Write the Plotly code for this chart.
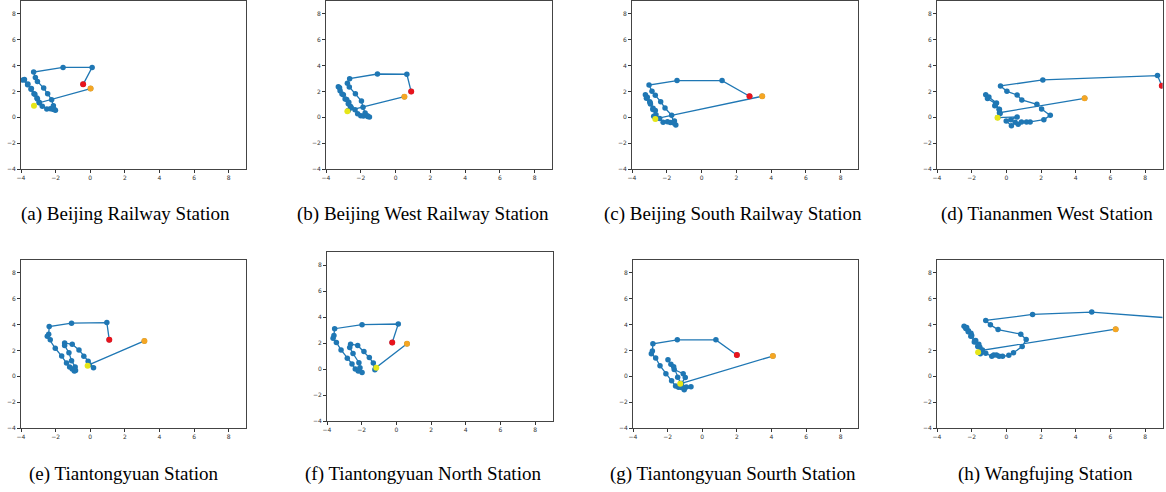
import plotly.graph_objects as go

W, H = 1166, 492

captions = [
    "(a) Beijing Railway Station",
    "(b) Beijing West Railway Station",
    "(c) Beijing South Railway Station",
    "(d) Tiananmen West Station",
    "(e) Tiantongyuan Station",
    "(f) Tiantongyuan North Station",
    "(g) Tiantongyuan Sourth Station",
    "(h) Wangfujing Station",
]

tick_vals = [-4, -2, 0, 2, 4, 6, 8]

# ---- trajectories: first point = orange start, last point = red end ----
a_x = [0.02, -2.95, -3.08, -3.25, -3.42, -3.62, -3.88, -3.8, -3.6, -3.4, -3.2, -3.05, -2.94, -2.77, -2.51, -2.3, -2.15, -2.01, -2.08, -2.13, -2.23, -2.46, -2.69, -3.05, -3.17, -3.27, -1.57, 0.11, -0.41]
a_y = [2.22, 1.12, 1.5, 1.82, 2.17, 2.52, 2.88, 2.92, 2.58, 2.22, 1.78, 1.42, 1.15, 0.85, 0.64, 0.66, 0.62, 0.54, 0.6, 0.9, 1.36, 1.82, 2.26, 2.78, 3.09, 3.5, 3.86, 3.86, 2.55]
a_yel = (-3.25, 0.9)

b_x = [0.51, -2.72, -2.6, -2.69, -2.81, -3.0, -3.19, -3.29, -3.22, -3.08, -2.9, -2.72, -2.55, -2.33, -2.18, -2.0, -1.85, -1.62, -1.5, -1.6, -1.75, -1.87, -1.96, -2.31, -2.66, -2.77, -2.64, -1.04, 0.65, 0.9]
b_y = [1.6, 0.52, 0.85, 1.16, 1.37, 1.75, 2.06, 2.37, 2.28, 1.8, 1.42, 1.05, 0.75, 0.59, 0.28, 0.13, 0.1, 0.13, 0.03, 0.06, 0.34, 0.77, 1.26, 1.83, 2.35, 2.63, 2.99, 3.35, 3.33, 1.99]
b_yel = (-2.77, 0.46)

c_x = [3.49, -2.6, -2.75, -2.66, -2.79, -2.94, -2.98, -3.17, -3.23, -3.12, -2.95, -2.8, -2.62, -2.41, -2.21, -1.96, -1.79, -1.56, -1.48, -1.6, -1.72, -2.1, -2.35, -2.66, -2.85, -3.02, -1.41, 1.18, 2.76]
c_y = [1.63, -0.1, 0.08, 0.52, 0.7, 1.03, 1.21, 1.47, 1.75, 1.55, 1.1, 0.6, 0.2, -0.1, -0.39, -0.34, -0.41, -0.28, -0.59, -0.45, 0.15, 0.72, 1.21, 1.7, 2.01, 2.5, 2.84, 2.84, 1.63]
c_yel = (-2.66, -0.13)

d_x = [4.51, -0.4, -0.42, -0.67, -0.57, -1.01, -1.19, -1.09, -0.62, -0.4, -0.36, -0.5, 0.62, 0.26, -0.01, 0.29, 0.51, 0.68, 0.87, 1.16, 1.37, 2.16, 2.53, 2.03, 1.76, 0.89, 0.62, 0.03, -0.34, 2.1, 8.71, 8.96]
d_y = [1.47, 0.36, 0.62, 0.9, 1.11, 1.57, 1.75, 1.45, 1.05, 0.6, 0.3, -0.02, 0.03, -0.18, -0.28, -0.65, -0.39, -0.54, -0.36, -0.36, -0.36, -0.18, 0.15, 0.65, 1.01, 1.34, 1.73, 2.01, 2.43, 2.89, 3.23, 2.45]
d_yel = (-0.51, -0.03)

e_x = [3.13, -0.05, 0.19, -0.12, -0.37, -0.65, -1.04, -1.48, -1.48, -1.23, -1.08, -0.87, -0.85, -0.92, -1.04, -1.19, -1.37, -1.65, -2.02, -2.31, -2.48, -2.4, -2.37, -1.08, 0.96, 1.1]
e_y = [2.74, 0.9, 0.67, 1.16, 1.55, 2.04, 2.48, 2.58, 2.38, 1.83, 1.21, 0.72, 0.45, 0.41, 0.56, 0.72, 1.03, 1.57, 2.17, 2.82, 3.1, 3.26, 3.85, 4.11, 4.16, 2.82]
e_yel = (-0.15, 0.82)

f_x = [0.61, -1.2, -1.24, -1.33, -1.56, -1.87, -2.23, -2.64, -2.69, -2.5, -2.16, -2.1, -1.98, -2.2, -2.37, -2.56, -2.83, -3.19, -3.46, -3.65, -3.6, -3.56, -1.98, 0.11, -0.24]
f_y = [1.94, 0.08, -0.05, 0.46, 0.88, 1.34, 1.81, 1.91, 1.65, 1.19, 0.49, 0.1, -0.26, -0.15, 0.0, 0.39, 0.83, 1.47, 2.04, 2.37, 2.58, 3.1, 3.41, 3.46, 2.04]
f_yel = (-1.16, 0.1)

g_x = [4.08, -1.2, -0.98, -1.1, -1.62, -1.98, -1.81, -1.65, -1.42, -1.25, -0.92, -0.65, -1.04, -1.2, -1.37, -1.54, -1.77, -2.1, -2.44, -2.69, -2.94, -2.88, -2.85, -1.44, 0.79, 2.0]
g_y = [1.57, -0.55, -0.1, 0.2, 0.52, 1.28, 0.94, 0.73, -0.07, -0.55, -0.83, -0.81, -1.04, -0.87, -0.85, -0.75, -0.35, 0.2, 0.82, 1.42, 1.75, 1.96, 2.51, 2.82, 2.82, 1.65]
g_yel = (-1.27, -0.58)

h_x = [6.3, -1.45, -1.53, -1.59, -1.77, -2.0, -2.04, -2.19, -2.29, -2.44, -2.34, -2.2, -2.05, -1.85, -1.65, -1.38, -1.5, -1.19, -0.84, -0.73, -0.57, -0.42, -0.22, 0.14, 0.41, 0.91, 1.14, 0.83, -0.48, -0.92, -1.19, 1.51, 4.92, 12.0]
h_y = [3.65, 2.0, 2.25, 2.48, 2.77, 3.15, 3.34, 3.52, 3.78, 3.88, 3.7, 3.45, 3.1, 2.65, 2.3, 2.04, 1.75, 1.78, 1.55, 1.65, 1.65, 1.55, 1.55, 1.62, 1.83, 2.3, 2.84, 3.26, 3.62, 3.98, 4.32, 4.79, 4.97, 4.25]
h_yel = (-1.63, 1.86)

panels = [
    (a_x, a_y, a_yel), (b_x, b_y, b_yel), (c_x, c_y, c_yel), (d_x, d_y, d_yel),
    (e_x, e_y, e_yel), (f_x, f_y, f_yel), (g_x, g_y, g_yel), (h_x, h_y, h_yel),
]

# plot-area boxes in pixels (left, right, top, bottom)
boxes = [
    (21, 246, 1, 169), (326, 552, 1, 169), (632, 858, 1, 169), (937, 1162.5, 1, 169),
    (21, 246, 260, 428), (327, 552.5, 252, 421), (633, 858, 260, 428), (937, 1162.5, 260, 428),
]
cap_pos = [(125, 214), (423, 214), (733, 214), (1047, 214),
           (123, 474), (423, 474), (733, 474), (1045, 474)]

BLUE = "#1f77b4"
fig = go.Figure()
layout = dict(
    template="none",
    width=W, height=H, margin=dict(l=0, r=0, t=0, b=0, autoexpand=False),
    paper_bgcolor="white", plot_bgcolor="white", showlegend=False,
)
annotations = []

for i, ((px, py, yel), (l, r, t, b)) in enumerate(zip(panels, boxes)):
    n = i + 1
    xa = "x" if n == 1 else f"x{n}"
    ya = "y" if n == 1 else f"y{n}"
    fig.add_trace(go.Scatter(x=px, y=py, mode="lines+markers", xaxis=xa, yaxis=ya,
                             line=dict(color=BLUE, width=1.3),
                             marker=dict(color=BLUE, size=5.5)))
    fig.add_trace(go.Scatter(x=[px[0]], y=[py[0]], mode="markers", xaxis=xa, yaxis=ya,
                             marker=dict(color="#f5a623", size=6)))
    fig.add_trace(go.Scatter(x=[px[-1]], y=[py[-1]], mode="markers", xaxis=xa, yaxis=ya,
                             marker=dict(color="#e8141c", size=6)))
    fig.add_trace(go.Scatter(x=[yel[0]], y=[yel[1]], mode="markers", xaxis=xa, yaxis=ya,
                             marker=dict(color="#e6e619", size=6)))
    axcommon = dict(
        range=[-4, 9], tickvals=tick_vals, ticks="outside", ticklen=3, tickwidth=0.8,
        tickcolor="#333", showline=True, mirror=True, linecolor="#444", linewidth=1,
        showgrid=False, zeroline=False, automargin=False,
        tickfont=dict(family="DejaVu Sans", size=6, color="#333"),
        fixedrange=True,
    )
    layout["xaxis" if n == 1 else f"xaxis{n}"] = dict(
        axcommon, domain=[l / W, r / W], anchor=ya)
    layout["yaxis" if n == 1 else f"yaxis{n}"] = dict(
        axcommon, domain=[1 - b / H, 1 - t / H], anchor=xa)
    cx, cy = cap_pos[i]
    annotations.append(dict(
        text=captions[i], x=cx / W, y=1 - cy / H, xref="paper", yref="paper",
        showarrow=False, xanchor="center", yanchor="middle",
        font=dict(family="Liberation Serif, Times New Roman, serif", size=19, color="black")))

layout["annotations"] = annotations
fig.update_layout(**layout)
fig.write_html(
    "out.html",
    config={"displayModeBar": False},
    post_script="document.body.style.margin='0';document.body.style.padding='0';"
                "document.body.style.overflow='hidden';",
)
